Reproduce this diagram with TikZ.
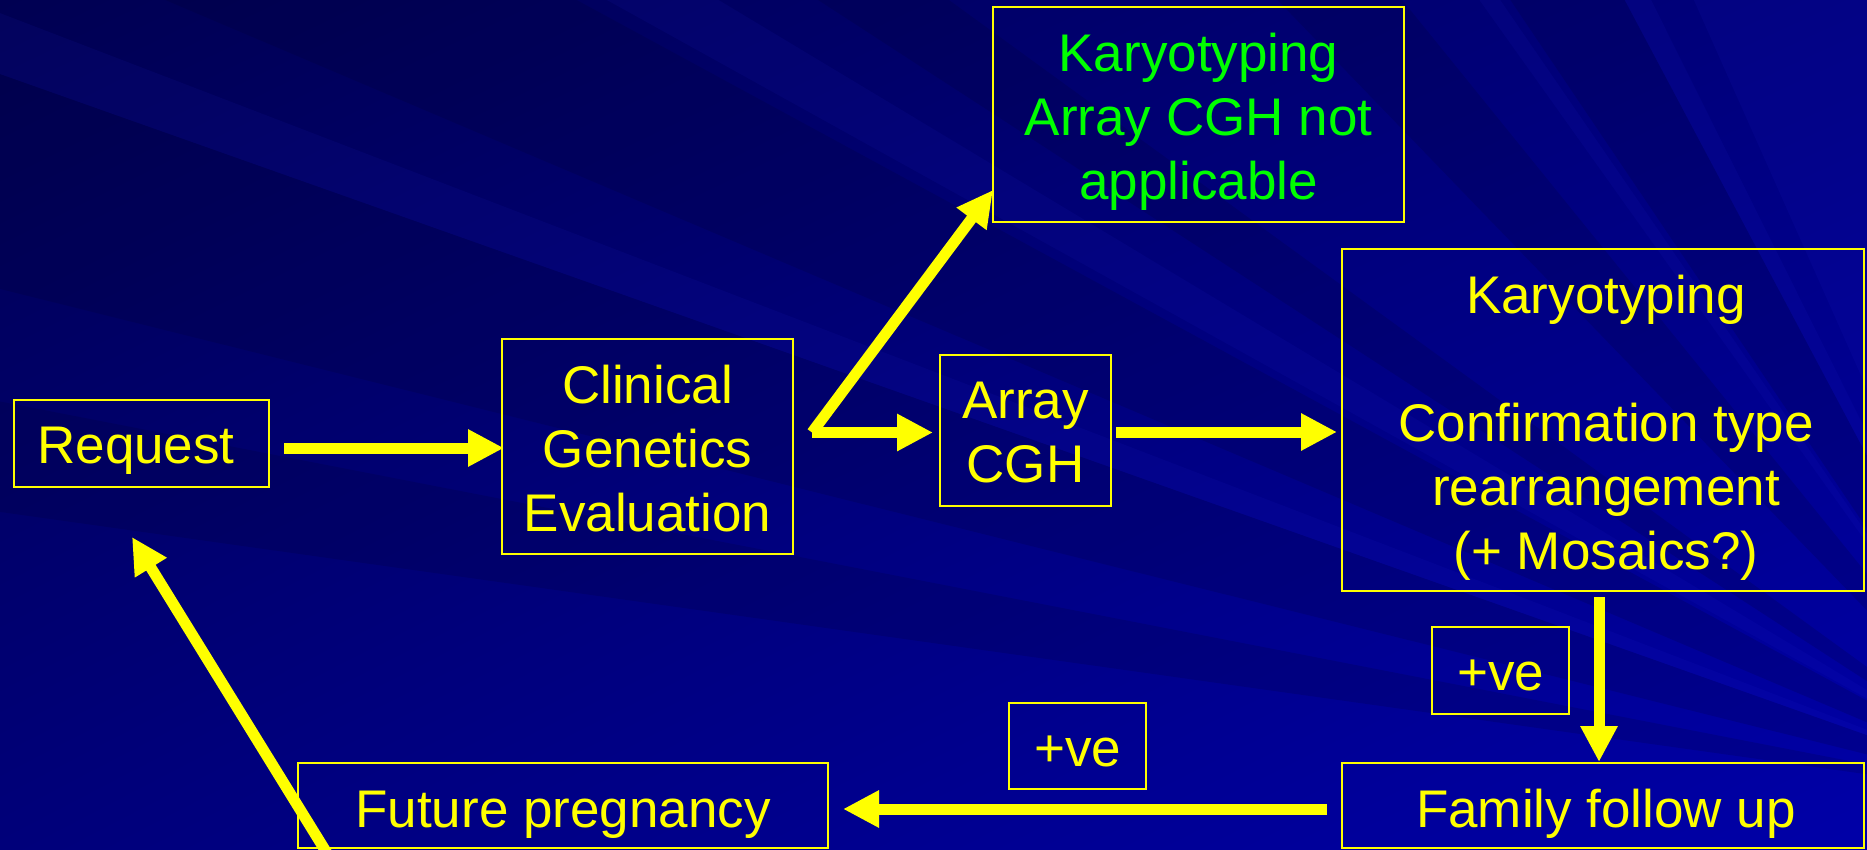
\documentclass[tikz,border=0pt]{standalone}
\usepackage{fontspec}
\setmainfont{Liberation Sans}
\usetikzlibrary{arrows.meta,calc,shadings}
\definecolor{slideyellow}{RGB}{255,255,0}
\definecolor{slidegreen}{RGB}{0,255,0}
\definecolor{bgdark}{RGB}{0,0,40}
\definecolor{bglight}{RGB}{40,40,230}
\definecolor{bgUL}{RGB}{0,0,82}
\definecolor{bgUR}{RGB}{0,0,125}
\definecolor{bgLL}{RGB}{0,0,122}
\definecolor{bgLR}{RGB}{0,0,168}
% lines of a label, first baseline is the node's base
\newcommand\txtlines[1]{\begin{tabular}[t]{@{}c@{}}#1\end{tabular}}

\begin{document}
\begin{tikzpicture}[x=1pt,y=-1pt,
  box/.style={draw=slideyellow, line width=2.2pt, rectangle, inner sep=0pt, outer sep=0pt},
  txt/.style={text=slideyellow, inner sep=0pt, anchor=base, font=\fontsize{53}{64}\selectfont},
  gtxt/.style={txt, text=slidegreen},
  arr/.style={draw=slideyellow, line width=11pt, -{Triangle[length=36pt,width=35pt]}},
  darkray/.style={fill=bgdark, opacity=0.16},
  lightray/.style={fill=bglight, opacity=0.08}]

\useasboundingbox (0,0) rectangle (1867,850);
\clip (0,0) rectangle (1867,850);

% slide background: blue gradient with faint rays from the lower right
\shade[upper left=bgUL, upper right=bgUR, lower left=bgLL, lower right=bgLR]
  (0,0) rectangle (1867,850);
\coordinate (S) at (2050,800);
\foreach \a/\b in {188/191, 194/199.5, 203/208.5, 213/216, 226/231, 236/242}
  \fill[darkray] (S) -- ($(S)+(\a:3200)$) -- ($(S)+(\b:3200)$) -- cycle;
\foreach \a/\b in {199.5/201, 209/211, 234.5/235.5, 242/243.5, 246/262}
  \fill[lightray] (S) -- ($(S)+(\a:3200)$) -- ($(S)+(\b:3200)$) -- cycle;

% boxes
\node[box, minimum width=255, minimum height=87]  (req)  at (141.5,443.5) {};
\node[box, minimum width=291, minimum height=215] (clin) at (647.5,446.5) {};
\node[box, minimum width=171, minimum height=151] (acgh) at (1025.5,430.5) {};
\node[box, minimum width=411, minimum height=215] (kna)  at (1198.5,114.5) {};
\node[box, minimum width=522, minimum height=342] (kary) at (1603,420) {};
\node[box, minimum width=137, minimum height=87]  (posA) at (1500.5,670.5) {};
\node[box, minimum width=137, minimum height=86]  (posB) at (1077.5,746) {};
\node[box, minimum width=522, minimum height=85]  (fam)  at (1603,805.5) {};
\node[box, minimum width=530, minimum height=85]  (fut)  at (563,805.5) {};

% labels
\node[txt]  (reqT)  at (136,463)    {Request};
\node[txt]  (clinT) at (647.5,403)  {\txtlines{Clinical\\Genetics\\Evaluation}};
\node[txt]  (acghT) at (1025.5,418) {\txtlines{Array\\CGH}};
\node[gtxt] (knaT)  at (1198.5,72)  {\txtlines{Karyotyping\\Array CGH not\\applicable}};
\node[txt]  (karyT) at (1606,313)   {\txtlines{Karyotyping\\ \\Confirmation type\\rearrangement\\(+ Mosaics?)}};
\node[txt]  (posAT) at (1500.5,690) {+ve};
\node[txt]  (posBT) at (1077.5,766) {+ve};
\node[txt]  (famT)  at (1606,827)   {Family follow up};
\node[txt]  (futT)  at (563,827)    {Future pregnancy};

% connectors
\coordinate (fork) at ($(clin.east)+(19,-14)$);
\coordinate (ret) at (343.5,880);
\draw[arr] ($(req.east)+(15,4.5)$) -- ($(clin.west)+(2,1.5)$);
\draw[arr] (fork) -- ($(kna.south west)+(0,-32)$);
\draw[arr] (fork) -- ($(acgh.west)+(-7,2)$);
\draw[arr] ($(acgh.east)+(5,1.5)$) -- ($(kary.west)+(-5,12)$);
\draw[arr] ($(kary.south)+(-4,6)$) -- ($(fam.north)+(-4,-1)$);
\draw[arr] ($(fam.west)+(-15,3.5)$) -- ($(fut.east)+(15,3.5)$);
\draw[arr] (ret) -- ($(req.south)+(-9.5,50)$);
\end{tikzpicture}
\end{document}
